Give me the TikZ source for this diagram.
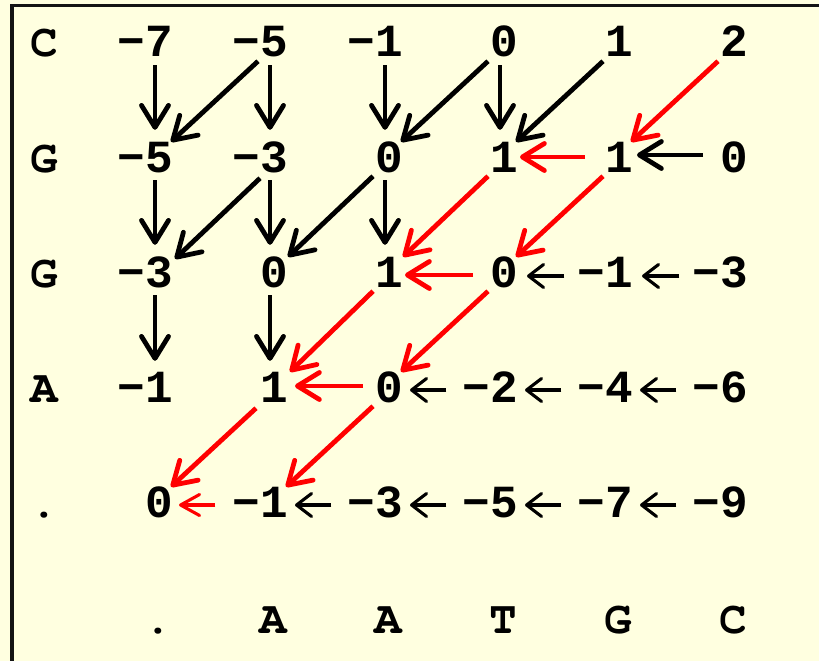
\documentclass[tikz,border=0pt]{standalone}
\usepackage{fontspec}
\setmonofont{Liberation Mono}
\usetikzlibrary{arrows.meta,calc}
\definecolor{bgyellow}{HTML}{FFFFE0}
\definecolor{frameblack}{HTML}{141414}
\definecolor{pathred}{HTML}{FF0000}
\begin{document}
\begin{tikzpicture}[x=1pt,y=-1pt,
  cellfont/.style={font=\ttfamily\bfseries\fontsize{46}{46}\selectfont},
  letterfont/.style={font=\fontencoding{OT1}\fontfamily{pcr}\fontseries{b}\fontshape{n}\fontsize{46}{46}\selectfont},
  num/.style={cellfont, anchor=base east, inner sep=0pt, text height=30pt, text depth=0pt},
  lab/.style={letterfont, anchor=base, inner sep=0pt},
  bigarrow/.style={line width=4.8pt, -{Straight Barb[length=22pt,width=27pt,round]}},
  smallarrow/.style={line width=3.1pt, -{Straight Barb[length=15pt,width=23pt,round]}},
  smallredarrow/.style={line width=3.1pt, draw=pathred, -{Straight Barb[length=19pt,width=21pt,round]}},
  tracered/.style={draw=pathred}
]
\useasboundingbox (0,0) rectangle (819,661);
\fill[bgyellow] (0,0) rectangle (819,661);
\draw[line width=3.5pt, frameblack] (12,5.5) rectangle (845,690);

% row 0
\node[lab] (l0) at (44,57) {C};
\node[num] (n01) at (173,57) {−7};
\node[num] (n02) at (288,57) {−5};
\node[num] (n03) at (403,57) {−1};
\node[num] (n04) at (518,57) {0};
\node[num] (n05) at (633,57) {1};
\node[num] (n06) at (748,57) {2};
% row 1
\node[lab] (l1) at (44,172) {G};
\node[num] (n11) at (173,172) {−5};
\node[num] (n12) at (288,172) {−3};
\node[num] (n13) at (403,172) {0};
\node[num] (n14) at (518,172) {1};
\node[num] (n15) at (633,172) {1};
\node[num] (n16) at (748,172) {0};
% row 2
\node[lab] (l2) at (44,287) {G};
\node[num] (n21) at (173,287) {−3};
\node[num] (n22) at (288,287) {0};
\node[num] (n23) at (403,287) {1};
\node[num] (n24) at (518,287) {0};
\node[num] (n25) at (633,287) {−1};
\node[num] (n26) at (748,287) {−3};
% row 3
\node[lab] (l3) at (44,402) {A};
\node[num] (n31) at (173,402) {−1};
\node[num] (n32) at (288,402) {1};
\node[num] (n33) at (403,402) {0};
\node[num] (n34) at (518,402) {−2};
\node[num] (n35) at (633,402) {−4};
\node[num] (n36) at (748,402) {−6};
% row 4
\node[lab] (l4) at (44,517) {.};
\node[num] (n41) at (173,517) {0};
\node[num] (n42) at (288,517) {−1};
\node[num] (n43) at (403,517) {−3};
\node[num] (n44) at (518,517) {−5};
\node[num] (n45) at (633,517) {−7};
\node[num] (n46) at (748,517) {−9};
% bottom labels
\node[lab] (b1) at (158,633) {.};
\node[lab] (b2) at (273,633) {A};
\node[lab] (b3) at (388,633) {A};
\node[lab] (b4) at (503,633) {T};
\node[lab] (b5) at (618,633) {G};
\node[lab] (b6) at (733,633) {C};

% row 0 -> row 1
\draw[bigarrow] ($(n01.south east)+(-18,8)$) -- ($(n11.north east)+(-18,-12)$);
\draw[bigarrow] ($(n02.south east)+(-30,4)$) -- ($(n11.north east)+(-2,0)$);
\draw[bigarrow] ($(n02.south east)+(-18,8)$) -- ($(n12.north east)+(-18,-12)$);
\draw[bigarrow] ($(n03.south east)+(-18,8)$) -- ($(n13.north east)+(-18,-12)$);
\draw[bigarrow] ($(n04.south east)+(-30,4)$) -- ($(n13.north east)+(-2,0)$);
\draw[bigarrow] ($(n04.south east)+(-18,8)$) -- ($(n14.north east)+(-18,-12)$);
\draw[bigarrow] ($(n05.south east)+(-30,4)$) -- ($(n14.north east)+(-2,0)$);
\draw[bigarrow,tracered] ($(n06.south east)+(-30,4)$) -- ($(n15.north east)+(-2,0)$);
% row 1 horizontal
\draw[bigarrow] ($(n16.base west)+(-17,-17)$) -- ($(n15.base east)+(4,-17)$);
\draw[bigarrow,tracered] ($(n15.base west)+(-20,-15)$) -- ($(n14.base east)+(2,-15)$);
% row 1 -> row 2
\draw[bigarrow] ($(n11.south east)+(-18,8)$) -- ($(n21.north east)+(-18,-12)$);
\draw[bigarrow] ($(n12.south east)+(-28,6)$) -- ($(n21.north east)+(2,2)$);
\draw[bigarrow] ($(n12.south east)+(-18,8)$) -- ($(n22.north east)+(-18,-12)$);
\draw[bigarrow] ($(n13.south east)+(-30,4)$) -- ($(n22.north east)+(0,0)$);
\draw[bigarrow] ($(n13.south east)+(-18,8)$) -- ($(n23.north east)+(-18,-12)$);
\draw[bigarrow,tracered] ($(n14.south east)+(-30,4)$) -- ($(n23.north east)+(0,0)$);
\draw[bigarrow,tracered] ($(n15.south east)+(-30,4)$) -- ($(n24.north east)+(-2,0)$);
% row 2 horizontal
\draw[bigarrow,tracered] ($(n24.base west)+(-17,-12)$) -- ($(n23.base east)+(2,-12)$);
\draw[smallarrow] ($(n25.base west)+(-13,-11)$) -- ($(n24.base east)+(9,-11)$);
\draw[smallarrow] ($(n26.base west)+(-13,-11)$) -- ($(n25.base east)+(9,-11)$);
% row 2 -> row 3
\draw[bigarrow] ($(n21.south east)+(-18,8)$) -- ($(n31.north east)+(-18,-11)$);
\draw[bigarrow] ($(n22.south east)+(-18,8)$) -- ($(n32.north east)+(-18,-11)$);
\draw[bigarrow,tracered] ($(n23.south east)+(-30,4)$) -- ($(n32.north east)+(2,0)$);
\draw[bigarrow,tracered] ($(n24.south east)+(-30,4)$) -- ($(n33.north east)+(-2,0)$);
% row 3 horizontal
\draw[bigarrow,tracered] ($(n33.base west)+(-12,-16)$) -- ($(n32.base east)+(7,-16)$);
\draw[smallarrow] ($(n34.base west)+(-16,-12)$) -- ($(n33.base east)+(7,-12)$);
\draw[smallarrow] ($(n35.base west)+(-16,-12)$) -- ($(n34.base east)+(7,-12)$);
\draw[smallarrow] ($(n36.base west)+(-16,-12)$) -- ($(n35.base east)+(7,-12)$);
% row 3 -> row 4
\draw[bigarrow,tracered] ($(n32.south east)+(-32,6)$) -- ($(n41.north east)+(-2,0)$);
\draw[bigarrow,tracered] ($(n33.south east)+(-30,4)$) -- ($(n42.north east)+(-2,0)$);
% row 4 horizontal
\draw[smallredarrow] ($(n42.base west)+(-17,-12)$) -- ($(n41.base east)+(6,-12)$);
\draw[smallarrow] ($(n43.base west)+(-16,-12)$) -- ($(n42.base east)+(7,-12)$);
\draw[smallarrow] ($(n44.base west)+(-16,-12)$) -- ($(n43.base east)+(7,-12)$);
\draw[smallarrow] ($(n45.base west)+(-16,-12)$) -- ($(n44.base east)+(7,-12)$);
\draw[smallarrow] ($(n46.base west)+(-16,-12)$) -- ($(n45.base east)+(7,-12)$);
\end{tikzpicture}
\end{document}
